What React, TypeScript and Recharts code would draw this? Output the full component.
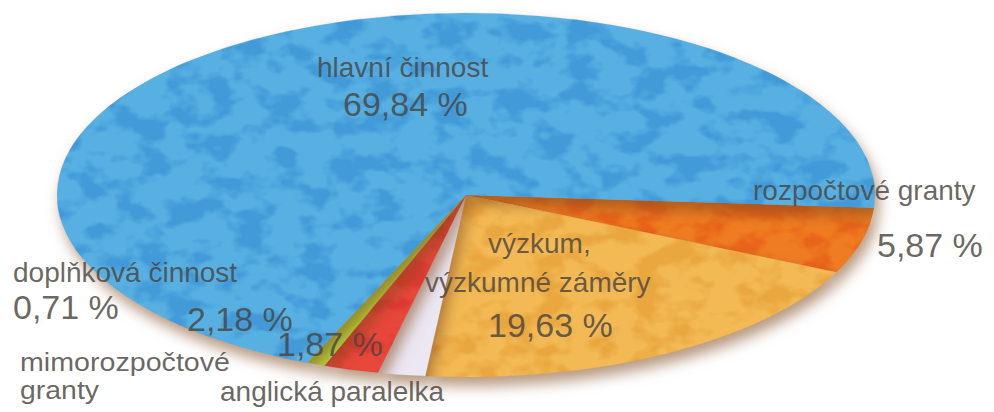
import React from 'react';
import { PieChart, Pie, Cell } from 'recharts';

const categories = [
  'rozpočtové granty',
  'výzkum, výzkumné záměry',
  'anglická paralelka',
  'mimorozpočtové granty',
  'doplňková činnost',
  'hlavní činnost',
];
const shares = [5.87, 19.63, 1.87, 2.18, 0.71, 69.84];
const nameLines = [
  ['rozpočtové granty'],
  ['výzkum,', 'výzkumné záměry'],
  ['anglická paralelka'],
  ['mimorozpočtové', 'granty'],
  ['doplňková činnost'],
  ['hlavní činnost'],
];

const colors = ['#ef7b22', '#f2b954', '#ebe7f3', '#e8463a', '#b6d83c', '#58b0e2'];
const patchColors = ['#e4501a', '#e59a2c', '#ebe7f3', '#d8302c', '#b6d83c', '#2a88d2'];

// label layout (text positions and sizes only)
const labelLayout = [
  { size: 28, names: [[753, 200]], pct: [877, 257] },
  { size: 28, names: [[488, 253], [425, 292]], pct: [488, 337] },
  { size: 28, names: [[220, 401]], pct: [277, 356] },
  { size: 25, names: [[20, 371], [20, 399]], widths: [210, 79], pct: [187, 331] },
  { size: 28, names: [[13, 282]], pct: [13, 319] },
  { size: 28, names: [[317, 77]], pct: [343, 116] },
];

const data = categories.map((c, i) => ({ name: c, value: shares[i] }));

const RAD = Math.PI / 180;
const Y_SCALE = 0.445;
const FONT = '"Liberation Sans", Arial, sans-serif';
const TEXT_FILL = '#4a4540';

const EllipseSector = (props: any) => {
  const { cx, cy, outerRadius, startAngle, endAngle, fill, index } = props;
  const rx = outerRadius;
  const ry = outerRadius * Y_SCALE;
  const p = (a: number) => [cx + rx * Math.cos(a * RAD), cy - ry * Math.sin(a * RAD)];
  const [x1, y1] = p(startAngle);
  const [x2, y2] = p(endAngle);
  const delta = Math.abs(endAngle - startAngle);
  const large = delta > 180 ? 1 : 0;
  const sweep = endAngle < startAngle ? 1 : 0;
  const d = `M${cx},${cy} L${x1},${y1} A${rx},${ry} 0 ${large} ${sweep} ${x2},${y2} Z`;
  const i = typeof index === 'number' ? index : colors.indexOf(fill);
  const fid = `mottle-${i}`;
  const patch = patchColors[i] || fill;
  return (
    <g>
      <defs>
        <filter id={fid} x="0" y="0" width="1" height="1" filterUnits="objectBoundingBox">
          <feTurbulence type="fractalNoise" baseFrequency="0.03 0.045" numOctaves={3} seed={i * 7 + 2} result="noise" />
          <feColorMatrix in="noise" type="matrix" values="0 0 0 0 0  0 0 0 0 0  0 0 0 0 0  5 0 0 0 -2.3" result="mask" />
          <feFlood floodColor={patch} floodOpacity={0.6} result="flood" />
          <feComposite in="flood" in2="mask" operator="in" result="patches" />
          <feMerge result="merged">
            <feMergeNode in="SourceGraphic" />
            <feMergeNode in="patches" />
          </feMerge>
          <feComposite in="merged" in2="SourceGraphic" operator="in" />
        </filter>
      </defs>
      <path d={d} fill={fill} stroke={fill} strokeWidth={0.5} className="ellipse-sector" filter={`url(#${fid})`} />
    </g>
  );
};

const renderLabel = (props: any) => {
  const { index, value } = props;
  const lay: any = labelLayout[index];
  const pctText = value.toFixed(2).replace('.', ',') + ' %';
  const lines = nameLines[index];
  return (
    <g key={`lbl-${index}`}>
      {lines.map((t, j) => (
        <text
          key={j}
          x={lay.names[j][0]}
          y={lay.names[j][1]}
          fontFamily={FONT}
          fontSize={lay.size}
          fill={TEXT_FILL}
          fillOpacity={0.82}
          textAnchor="start"
          {...(lay.widths ? { textLength: lay.widths[j], lengthAdjust: 'spacingAndGlyphs' } : {})}
        >
          {t}
        </text>
      ))}
      <text
        x={lay.pct[0]}
        y={lay.pct[1]}
        fontFamily={FONT}
        fontSize={34}
        fill={TEXT_FILL}
        fillOpacity={0.82}
        textAnchor="start"
      >
        {pctText}
      </text>
    </g>
  );
};

export default function App() {
  return (
    <div style={{ position: 'absolute', left: 0, top: 0, width: 994, height: 412, background: '#ffffff' }}>
      <style>{`
        g:has(> g > g > path.ellipse-sector) { filter: drop-shadow(4px 9px 7px rgba(125, 70, 25, 0.55)); }
      `}</style>
      <PieChart width={994} height={412} margin={{ top: 0, right: 0, bottom: 0, left: 0 }}>
        <Pie
          data={data}
          dataKey="value"
          nameKey="name"
          cx={466}
          cy={195}
          outerRadius={409}
          startAngle={-4}
          endAngle={-364}
          stroke="none"
          shape={EllipseSector}
          label={renderLabel}
          labelLine={false}
          isAnimationActive={false}
        >
          {data.map((d, i) => (
            <Cell key={d.name} fill={colors[i]} />
          ))}
        </Pie>
      </PieChart>
    </div>
  );
}
